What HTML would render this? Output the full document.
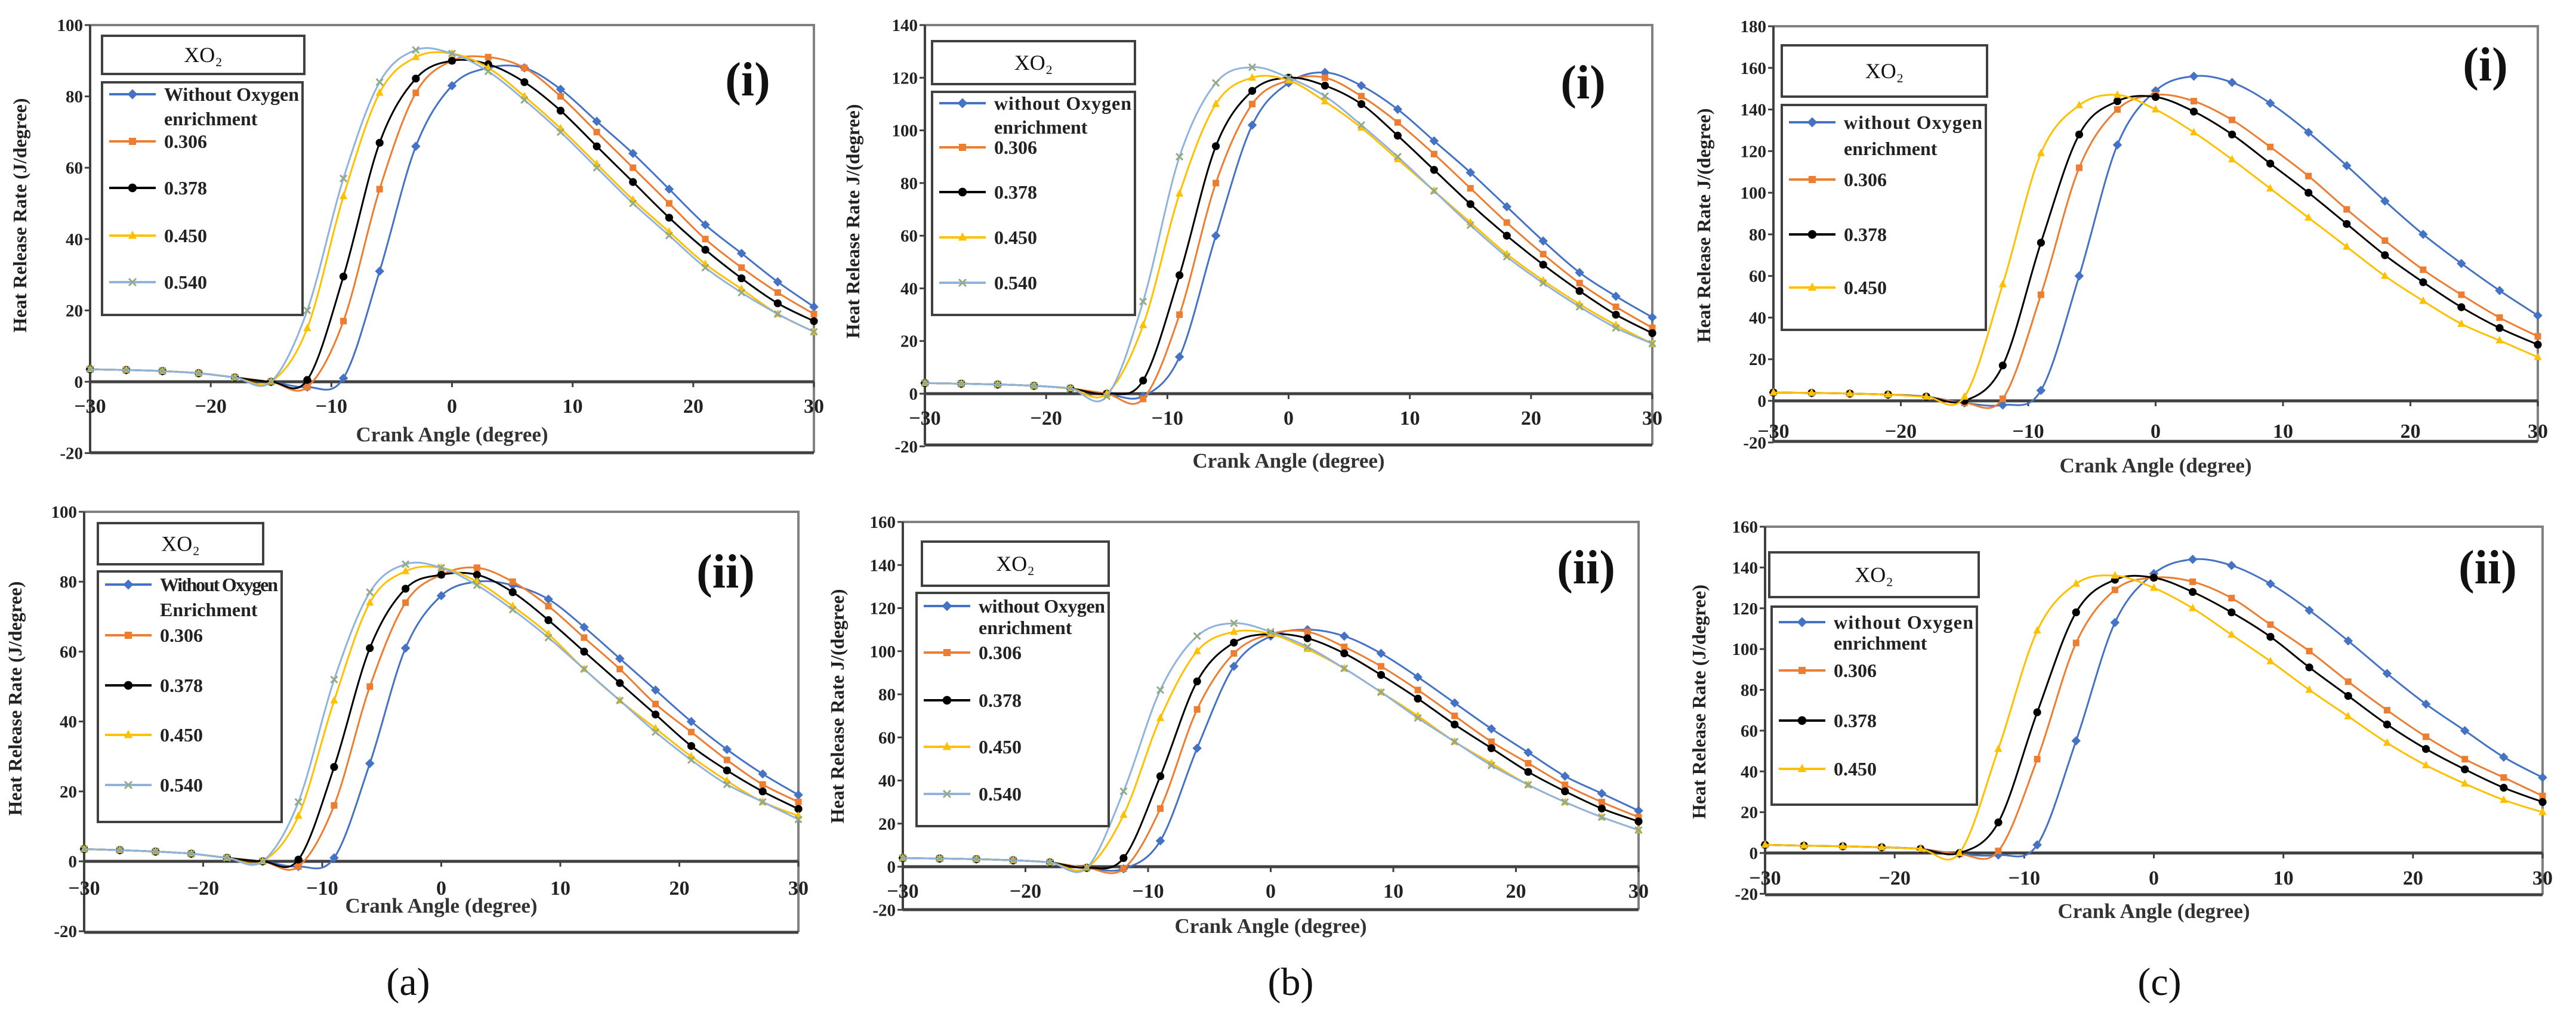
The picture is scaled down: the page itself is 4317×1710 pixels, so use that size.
<!DOCTYPE html>
<html><head><meta charset="utf-8"><style>
html,body{margin:0;padding:0;background:#fff;}
svg{display:block;}
text{font-family:"Liberation Serif",serif;}
</style></head><body>
<svg id="fig" width="4317" height="1710" viewBox="0 0 4317 1710" xmlns="http://www.w3.org/2000/svg"></svg>
<script>
// ---- data ----
const crankAngles = [-30,-27,-24,-21,-18,-15,-12,-9,-6,-3,0,3,6,9,12,15,18,21,24,27,30];
const seriesNames = ["without", "x0306", "x0378", "x0450", "x0540"];
const legendLabels = ["0.306","0.378","0.450","0.540"];

const aI_without = [3.5,3.3,3,2.4,1.2,0,-1.5,1,31,66,83,88,88,82,73,64,54,44,36,28,21];
const aI_0306 = [3.5,3.3,3,2.4,1.2,0,-1.5,17,54,81,90,91,88,80,70,60,50,40,32,25,19];
const aI_0378 = [3.5,3.3,3,2.4,1.2,0,0.5,29.5,67,85,90,89,84,76,66,56,46,37,29,22,17];
const aI_0450 = [3.5,3.3,3,2.4,1.2,0,15,52,81,91,92,88,80,71,61,51,42,33,26,19,14];
const aI_0540 = [3.5,3.3,3,2.4,1.2,0,20,57,84,93,92,87,79,70,60,50,41,32,25,19,14];

const aII_without = [3.5,3.2,2.8,2.2,1,0,-1.5,1,28,61,76,80,79,75,67,58,49,40,32,25,19];
const aII_0306 = [3.5,3.2,2.8,2.2,1,0,-1.5,16,50,74,82,84,80,73,64,55,45,37,29,22,17];
const aII_0378 = [3.5,3.2,2.8,2.2,1,0,0.5,27,61,78,82,82,77,69,60,51,42,33,26,20,15];
const aII_0450 = [3.5,3.2,2.8,2.2,1,0,13,46,74,83,84,80,73,65,55,46,38,30,23,17,13];
const aII_0540 = [3.5,3.2,2.8,2.2,1,0,17,52,77,85,84,79,72,64,55,46,37,29,22,17,12];

const bI_without = [4,3.8,3.5,3,2,0,-1,14,60,102,118,122,117,108,96,84,71,58,46,37,29];
const bI_0306 = [4,3.8,3.5,3,2,0,-2,30,80,110,119,120,113,103,91,78,65,53,42,33,25];
const bI_0378 = [4,3.8,3.5,3,2,0,5,45,94,115,120,117,110,98,85,72,60,49,39,30,23];
const bI_0450 = [4,3.8,3.5,3,2,0,26,76,110,120,119,111,101,89,77,65,53,43,34,26,19];
const bI_0540 = [4,3.8,3.5,3,2,-1,35,90,118,124,120,113,102,90,77,64,52,42,33,25,19];

const bII_without = [4,3.8,3.5,3,2,-0.5,-1,12,55,93,107,110,107,99,88,76,64,53,42,34,26];
const bII_0306 = [4,3.8,3.5,3,2,-0.5,-1,27,73,99,108,109,102,93,82,70,58,48,38,30,23];
const bII_0378 = [4,3.8,3.5,3,2,-0.5,4,42,86,104,108,106,99,89,78,66,55,44,35,27,21];
const bII_0450 = [4,3.8,3.5,3,2,-0.5,24,69,100,109,108,101,92,81,70,58,48,38,30,23,17];
const bII_0540 = [4,3.8,3.5,3,2,-0.5,35,82,107,113,109,102,92,81,69,58,47,38,30,23,17];

const cI_without = [4,3.8,3.5,3,2,-1,-2,5,60,123,149,156,153,143,129,113,96,80,66,53,41];
const cI_0306 = [4,3.8,3.5,3,2,-1,1,51,112,140,147,144,135,122,108,92,77,63,51,40,31];
const cI_0378 = [4,3.8,3.5,3,2,0,17,76,128,144,146,139,128,114,100,85,70,57,45,35,27];
const cI_0450 = [4,3.8,3.5,3,2,2,56,119,142,147,140,129,116,102,88,74,60,48,37,29,21];

const cII_without = [4,3.6,3.3,2.8,2,-0.5,-1,4,55,113,137,144,141,132,119,104,88,73,60,47,37];
const cII_0306 = [4,3.6,3.3,2.8,2,-0.5,1,46,103,129,135,133,125,112,99,84,70,57,46,37,28];
const cII_0378 = [4,3.6,3.3,2.8,2,0,15,69,118,134,135,128,118,106,91,77,63,51,41,32,25];
const cII_0450 = [4,3.6,3.3,2.8,2,0,51,109,132,136,130,120,107,94,80,67,54,43,34,26,20];

const xTicks = [-30,-20,-10,0,10,20,30];
const yTicksA = [-20,0,20,40,60,80,100];
const yTicksBI = [-20,0,20,40,60,80,100,120,140];
const yTicksBII = [-20,0,20,40,60,80,100,120,140,160];
const yTicksCI = [-20,0,20,40,60,80,100,120,140,160,180];

// ---- layout ----
const COLORS = ["#4472c4","#ed7d31","#000000","#ffc000","#8fb3dc"];
const panels = [
 {id:"a-i",x0:151,x1:1364,ymax:100,yTop:42,yZero:640,yMin:759,ticks:yTicksA,tickY:692,labY:740,ytitle:"Heat Release Rate (J/degree)",ytx:44,
  series:[aI_without,aI_0306,aI_0378,aI_0450,aI_0540],w1:"Without Oxygen",w2:"enrichment",
  lt:[171,60,510,124],lb:[171,138,507,528],ent:[158,199,237,315,395,473],tag:"(i)",tagX:1253,tagY:160},
 {id:"b-i",x0:1550,x1:2769,ymax:140,yTop:42,yZero:660,yMin:746,ticks:yTicksBI,tickY:712,labY:784,ytitle:"Heat Release Rate J/(degree)",ytx:1440,
  series:[bI_without,bI_0306,bI_0378,bI_0450,bI_0540],w1:"without Oxygen",w2:"enrichment",
  lt:[1562,69,1902,141],lb:[1562,154,1902,528],ent:[173,213,247,322,398,474],tag:"(i)",tagX:2653,tagY:165},
 {id:"c-i",x0:2972,x1:4253,ymax:180,yTop:44,yZero:672,yMin:740,ticks:yTicksCI,tickY:734,labY:792,ytitle:"Heat Release Rate J/(degree)",ytx:2866,
  series:[cI_without,cI_0306,cI_0378,cI_0450],w1:"without Oxygen",w2:"enrichment",
  lt:[2986,76,3330,162],lb:[2986,176,3328,553],ent:[205,249,301,393,482],tag:"(i)",tagX:4165,tagY:135},
 {id:"a-ii",x0:141,x1:1338,ymax:100,yTop:858,yZero:1444,yMin:1563,ticks:yTicksA,tickY:1500,labY:1530,ytitle:"Heat Release Rate (J/degree)",ytx:36,
  series:[aII_without,aII_0306,aII_0378,aII_0450,aII_0540],w1:"Without Oxygen",w2:"Enrichment",
  lt:[164,877,441,946],lb:[164,958,472,1378],ent:[980,1022,1065,1149,1232,1316],tag:"(ii)",tagX:1216,tagY:985},
 {id:"b-ii",x0:1513,x1:2746,ymax:160,yTop:875,yZero:1453,yMin:1525,ticks:yTicksBII,tickY:1505,labY:1564,ytitle:"Heat Release Rate J/(degree)",ytx:1414,
  series:[bII_without,bII_0306,bII_0378,bII_0450,bII_0540],w1:"without Oxygen",w2:"enrichment",
  lt:[1545,908,1858,982],lb:[1536,994,1858,1385],ent:[1016,1052,1094,1174,1252,1331],tag:"(ii)",tagX:2658,tagY:978},
 {id:"c-ii",x0:2958,x1:4261,ymax:160,yTop:883,yZero:1430,yMin:1500,ticks:yTicksBII,tickY:1483,labY:1539,ytitle:"Heat Release Rate (J/degree)",ytx:2858,
  series:[cII_without,cII_0306,cII_0378,cII_0450],w1:"without Oxygen",w2:"enrichment",
  lt:[2965,926,3316,1001],lb:[2969,1017,3313,1349],ent:[1043,1078,1124,1208,1289],tag:"(ii)",tagX:4169,tagY:978}
];
const captions = [["(a)",684,1668],["(b)",2163,1668],["(c)",3619,1668]];

const NS = "http://www.w3.org/2000/svg";
const svg = document.getElementById("fig");
function mk(tag, attrs, parent, txt){
  const e = document.createElementNS(NS, tag);
  for (const k in attrs) e.setAttribute(k, attrs[k]);
  if (txt !== undefined) e.textContent = txt;
  (parent||svg).appendChild(e);
  return e;
}
function smoothPath(pts){
  let d = "M"+pts[0][0].toFixed(1)+","+pts[0][1].toFixed(1);
  for (let i=0;i<pts.length-1;i++){
    const p0=pts[Math.max(0,i-1)],p1=pts[i],p2=pts[i+1],p3=pts[Math.min(pts.length-1,i+2)];
    const c1x=p1[0]+(p2[0]-p0[0])/6,c1y=p1[1]+(p2[1]-p0[1])/6;
    const c2x=p2[0]-(p3[0]-p1[0])/6,c2y=p2[1]-(p3[1]-p1[1])/6;
    d+=" C"+c1x.toFixed(1)+","+c1y.toFixed(1)+" "+c2x.toFixed(1)+","+c2y.toFixed(1)+" "+p2[0].toFixed(1)+","+p2[1].toFixed(1);
  }
  return d;
}
function marker(g, i, x, y, size){
  let m;
  if (i===2){ m = mk("circle",{cx:x,cy:y,r:size*0.6,fill:COLORS[i]},g); }
  else if (i===0){ m = mk("rect",{x:x-size/2,y:y-size/2,width:size,height:size,fill:COLORS[i],transform:"rotate(45 "+x+" "+y+")"},g); }
  else if (i===3){ m = mk("path",{d:"M"+(x)+","+(y-size*0.7)+" L"+(x+size*0.6)+","+(y+size*0.45)+" L"+(x-size*0.6)+","+(y+size*0.45)+"Z",fill:COLORS[i]},g); }
  else if (i===4){ m = mk("path",{d:"M"+(x-size/2)+","+(y-size/2)+"L"+(x+size/2)+","+(y+size/2)+"M"+(x+size/2)+","+(y-size/2)+"L"+(x-size/2)+","+(y+size/2),stroke:"#93aa88","stroke-width":3},g); }
  else { m = mk("rect",{x:x-size/2,y:y-size/2,width:size,height:size,fill:COLORS[i]},g); }
  
  
}

panels.forEach(p=>{
  const g = mk("g",{});
  
  
  const unit = (p.yZero-p.yTop)/p.ymax;
  const X = v => p.x0 + (v+30)/60*(p.x1-p.x0);
  const Y = v => p.yZero - v*unit;
  const fr = mk("path",{d:"M"+p.x0+","+p.yTop+" H"+p.x1+" V"+p.yMin,fill:"none",stroke:"#808080","stroke-width":4},g);
   
  const bot = mk("line",{x1:p.x0,y1:p.yMin,x2:p.x1,y2:p.yMin,stroke:"#404040","stroke-width":5},g);
   
  const ya = mk("line",{x1:p.x0,y1:p.yTop,x2:p.x0,y2:p.yMin,stroke:"#404040","stroke-width":4},g);
   
  const xa = mk("line",{x1:p.x0,y1:p.yZero,x2:p.x1,y2:p.yZero,stroke:"#404040","stroke-width":5},g);
   
  p.ticks.forEach(t=>{
    const y = Y(t);
    mk("line",{x1:p.x0-9,y1:y,x2:p.x0,y2:y,stroke:"#404040","stroke-width":3},g);
    const tl = mk("text",{x:p.x0-12,y:y+10,"text-anchor":"end","font-size":29,"font-weight":"bold",fill:"#222"},g,String(t));
     
  });
  xTicks.forEach(t=>{
    const x = X(t);
    mk("line",{x1:x,y1:p.yZero,x2:x,y2:p.yZero+9,stroke:"#404040","stroke-width":3},g);
    const tl = mk("text",{x:x,y:p.tickY,"text-anchor":"middle","font-size":34,"font-weight":"bold",fill:"#222"},g,(t<0?"\u2212":"")+Math.abs(t));
     
  });
  const xt = mk("text",{x:(p.x0+p.x1)/2,y:p.labY,"text-anchor":"middle","font-size":35,"font-weight":"bold",fill:"#333"},g,"Crank Angle (degree)");
   
  const cy = (p.yTop+p.yZero)/2+20;
  const yt = mk("text",{x:p.ytx,y:cy,"text-anchor":"middle","font-size":32,"font-weight":"bold",fill:"#222",transform:"rotate(-90 "+p.ytx+" "+cy+")"},g,p.ytitle);
   
  p.series.forEach((vals,i)=>{
    const sg = mk("g",{},g);
    
    
    const pts = crankAngles.map((a,k)=>[X(a),Y(vals[k])]);
    const ln = mk("path",{d:smoothPath(pts),fill:"none",stroke:COLORS[i],"stroke-width":3},sg);
    
    
    pts.forEach(pt=>marker(sg,i,pt[0],pt[1],11));
  });
  const lg = mk("g",{},g);
  
  
  const lt = p.lt, lb = p.lb;
  mk("rect",{x:lt[0],y:lt[1],width:lt[2]-lt[0],height:lt[3]-lt[1],fill:"#fff",stroke:"#404040","stroke-width":4},lg);
  const ltt = mk("text",{x:(lt[0]+lt[2])/2,y:(lt[1]+lt[3])/2+12,"text-anchor":"middle","font-size":36,fill:"#111"},lg,"XO\u2082");
   
  mk("rect",{x:lb[0],y:lb[1],width:lb[2]-lb[0],height:lb[3]-lb[1],fill:"#fff",stroke:"#404040","stroke-width":4},lg);
  const labels = [p.w1].concat(legendLabels.slice(0,p.series.length-1));
  const ys = [p.ent[0]].concat(p.ent.slice(2));
  labels.forEach((lab,i)=>{
    const y = ys[i];
    const eg = mk("g",{},lg);
    
    
    const lx = lb[0]+12;
    mk("line",{x1:lx,y1:y,x2:lx+78,y2:y,stroke:COLORS[i],"stroke-width":4},eg);
    marker(eg,i,lx+39,y,12);
    mk("text",{x:lx+92,y:y+11,"font-size":32,"font-weight":"bold",fill:"#222",textLength:(i===0?(lb[2]-lx-98):undefined)||null},eg,lab);
  });
  lg.querySelectorAll('text').forEach(t=>{ if(t.getAttribute('textLength')==='null'||t.getAttribute('textLength')===null) t.removeAttribute('textLength'); });
  const l2 = mk("text",{x:lb[0]+104,y:p.ent[1]+11,"font-size":32,"font-weight":"bold",fill:"#222"},lg,p.w2);
   
  const tg = mk("text",{x:p.tagX,y:p.tagY,"text-anchor":"middle","font-size":80,"font-weight":"bold",fill:"#111"},g,p.tag);
   
});
captions.forEach(c=>{
  const t = mk("text",{x:c[1],y:c[2],"text-anchor":"middle","font-size":66,fill:"#111"},svg,c[0]);
  
  
});
</script>
</body></html>
